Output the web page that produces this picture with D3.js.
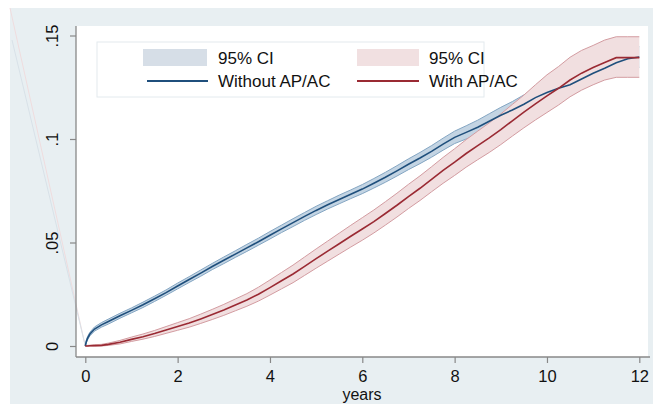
<!DOCTYPE html>
<html>
<head>
<meta charset="utf-8">
<script src="https://cdn.jsdelivr.net/npm/d3@7"></script>
<style>
  html, body { margin: 0; padding: 0; background: #ffffff; }
  svg { display: block; }
  text { font-family: "Liberation Sans", Arial, Helvetica, sans-serif; fill: #111; }
</style>
</head>
<body>
<svg id="chart" width="653" height="407"></svg>
<script>
// ---- data ----
const years = [0, 0.02, 0.05, 0.1, 0.2, 0.35, 0.5, 0.75, 1, 1.25, 1.5, 1.75, 2, 2.25, 2.5, 2.75, 3, 3.25, 3.5, 3.75, 4, 4.25, 4.5, 4.75, 5, 5.25, 5.5, 5.75, 6, 6.25, 6.5, 6.75, 7, 7.25, 7.5, 7.75, 8, 8.25, 8.5, 8.75, 9, 9.25, 9.5, 9.75, 10, 10.25, 10.5, 10.75, 11, 11.25, 11.5, 11.75, 12];

const withoutAPAC = [0, 0.0020, 0.0038, 0.0058, 0.0082, 0.0102, 0.0118, 0.0146, 0.0172, 0.0199, 0.0228, 0.0258, 0.0290, 0.0321, 0.0352, 0.0384, 0.0414, 0.0444, 0.0474, 0.0504, 0.0535, 0.0566, 0.0596, 0.0626, 0.0655, 0.0682, 0.0708, 0.0733, 0.0758, 0.0786, 0.0815, 0.0846, 0.0878, 0.0908, 0.0940, 0.0975, 0.1008, 0.1032, 0.1057, 0.1086, 0.1115, 0.1140, 0.1168, 0.1200, 0.1225, 0.1245, 0.1262, 0.1290, 0.1318, 0.1342, 0.1368, 0.1388, 0.1396];
const withoutLo = [0, 0.0014, 0.0030, 0.0049, 0.0072, 0.0091, 0.0106, 0.0134, 0.0160, 0.0186, 0.0215, 0.0245, 0.0276, 0.0307, 0.0337, 0.0369, 0.0398, 0.0428, 0.0457, 0.0487, 0.0517, 0.0548, 0.0577, 0.0607, 0.0635, 0.0662, 0.0687, 0.0712, 0.0736, 0.0763, 0.0791, 0.0821, 0.0852, 0.0881, 0.0912, 0.0946, 0.0978, 0.1000, 0.1023, 0.1050, 0.1077, 0.1099, 0.1123, 0.1152, 0.1175, 0.1195, 0.1212, 0.1240, 0.1268, 0.1292, 0.1318, 0.1338, 0.1346];
const withoutHi = [0, 0.0026, 0.0046, 0.0067, 0.0092, 0.0113, 0.0130, 0.0158, 0.0184, 0.0212, 0.0241, 0.0271, 0.0304, 0.0335, 0.0367, 0.0399, 0.0430, 0.0460, 0.0491, 0.0521, 0.0553, 0.0584, 0.0615, 0.0645, 0.0675, 0.0702, 0.0729, 0.0754, 0.0780, 0.0809, 0.0839, 0.0871, 0.0904, 0.0935, 0.0968, 0.1004, 0.1038, 0.1064, 0.1091, 0.1122, 0.1153, 0.1181, 0.1213, 0.1248, 0.1275, 0.1295, 0.1312, 0.1340, 0.1368, 0.1392, 0.1418, 0.1438, 0.1446];

const withAPAC = [0, 0, 0, 0.0001, 0.0002, 0.0003, 0.0008, 0.0018, 0.0032, 0.0045, 0.0060, 0.0077, 0.0094, 0.0111, 0.0131, 0.0152, 0.0174, 0.0198, 0.0222, 0.0250, 0.0282, 0.0315, 0.0348, 0.0385, 0.0422, 0.0458, 0.0494, 0.0530, 0.0565, 0.0601, 0.0640, 0.0680, 0.0722, 0.0762, 0.0805, 0.0848, 0.0888, 0.0930, 0.0968, 0.1005, 0.1045, 0.1088, 0.1130, 0.1170, 0.1208, 0.1245, 0.1285, 0.1318, 0.1345, 0.1370, 0.1393, 0.1393, 0.1393];
const withLo = [0, 0, 0, 0, 0, 0, 0.0003, 0.0010, 0.0022, 0.0033, 0.0046, 0.0061, 0.0076, 0.0091, 0.0109, 0.0128, 0.0148, 0.0170, 0.0192, 0.0217, 0.0246, 0.0276, 0.0306, 0.0341, 0.0376, 0.0410, 0.0444, 0.0478, 0.0511, 0.0546, 0.0584, 0.0623, 0.0664, 0.0703, 0.0745, 0.0786, 0.0824, 0.0864, 0.0900, 0.0935, 0.0973, 0.1014, 0.1054, 0.1092, 0.1128, 0.1164, 0.1204, 0.1236, 0.1262, 0.1285, 0.1298, 0.1298, 0.1298];
const withHi = [0, 0.0002, 0.0003, 0.0004, 0.0006, 0.0008, 0.0014, 0.0027, 0.0043, 0.0058, 0.0075, 0.0094, 0.0113, 0.0132, 0.0154, 0.0177, 0.0201, 0.0227, 0.0253, 0.0284, 0.0319, 0.0355, 0.0391, 0.0430, 0.0469, 0.0507, 0.0545, 0.0583, 0.0620, 0.0657, 0.0697, 0.0738, 0.0781, 0.0822, 0.0866, 0.0911, 0.0953, 0.0997, 0.1038, 0.1078, 0.1121, 0.1167, 0.1212, 0.1262, 0.1310, 0.1350, 0.1395, 0.1428, 0.1452, 0.1478, 0.1494, 0.1494, 0.1494];

const xTicks = [0, 2, 4, 6, 8, 10, 12];
const yTicks = [0, 0.05, 0.1, 0.15];
const yTickLabels = ["0", ".05", ".1", ".15"];
const legendLabels = ["95% CI", "Without AP/AC", "95% CI", "With AP/AC"];
const xTitle = "years";

// ---- layout ----
const svg = d3.select("#chart");
const plotL = 76, plotR = 648, plotT = 26, plotB = 357;
const x = d3.scaleLinear().domain([0, 12]).range([85.3, 639.3]);
const y = d3.scaleLinear().domain([0, 0.15]).range([346, 35.5]);

const colors = {
  bg: "#e8eff2",
  blueLine: "#1f4f7c", blueFill: "#c3d4e3", blueEdge: "#84a6c3", blueSwatch: "#d6dee7",
  redLine: "#9a2a33", redFill: "#f1dfe0", redEdge: "#d39ca1", redSwatch: "#f1e0e1",
  axis: "#888888"
};

// graph region background
svg.append("rect").attr("x", 10).attr("y", 8).attr("width", 643).attr("height", 396).attr("fill", colors.bg);
// plot region
svg.append("rect").attr("x", plotL).attr("y", plotT).attr("width", plotR - plotL).attr("height", plotB - plotT).attr("fill", "#ffffff");

// faint artifact lines seen in the reference
svg.append("line").attr("x1", 10).attr("y1", 8).attr("x2", x(0)).attr("y2", y(0))
  .attr("stroke", "#efdcde").attr("stroke-width", 1);
svg.append("line").attr("x1", 12).attr("y1", 40).attr("x2", x(0)).attr("y2", y(0))
  .attr("stroke", "#d8e1e8").attr("stroke-width", 1);

const idx = d3.range(years.length);
const area = (lo, hi) => d3.area().x(i => x(years[i])).y0(i => y(lo[i])).y1(i => y(hi[i]));
const line = (arr) => d3.line().x(i => x(years[i])).y(i => y(arr[i]));

// CI bands
const g = svg.append("g");
function band(lo, hi, fill, edge) {
  g.append("path").attr("d", area(lo, hi)(idx)).attr("fill", fill);
  g.append("path").attr("d", line(lo)(idx)).attr("fill", "none").attr("stroke", edge).attr("stroke-width", 1);
  g.append("path").attr("d", line(hi)(idx)).attr("fill", "none").attr("stroke", edge).attr("stroke-width", 1);
}
band(withoutLo, withoutHi, colors.blueFill, colors.blueEdge);
band(withLo, withHi, colors.redFill, colors.redEdge);

// estimate lines
g.append("path").attr("d", line(withoutAPAC)(idx)).attr("fill", "none").attr("stroke", colors.blueLine).attr("stroke-width", 1.6);
g.append("path").attr("d", line(withAPAC)(idx)).attr("fill", "none").attr("stroke", colors.redLine).attr("stroke-width", 1.6);

// axes
svg.append("line").attr("x1", plotL).attr("x2", plotL).attr("y1", plotT).attr("y2", plotB)
  .attr("stroke", colors.axis).attr("stroke-width", 1.3);
svg.append("line").attr("x1", plotL).attr("x2", plotR + 2).attr("y1", plotB).attr("y2", plotB)
  .attr("stroke", colors.axis).attr("stroke-width", 1.3);

const xAxis = d3.axisBottom(x).tickValues(xTicks).tickSize(6).tickSizeOuter(0).tickFormat(d3.format("d"));
const gx = svg.append("g").attr("transform", `translate(0,${plotB})`).call(xAxis);
gx.select(".domain").remove();
gx.selectAll(".tick line").attr("stroke", colors.axis).attr("stroke-width", 1.2);
gx.selectAll(".tick text").attr("y", 0).attr("dy", "25px")
  .style("font-family", '"Liberation Sans", Arial, sans-serif').style("font-size", "16.5px").attr("fill", "#111");

const yAxis = d3.axisLeft(y).tickValues(yTicks).tickSize(6).tickSizeOuter(0).tickFormat((d, i) => yTickLabels[i]);
const gy = svg.append("g").attr("transform", `translate(${plotL},0)`).call(yAxis);
gy.select(".domain").remove();
gy.selectAll(".tick line").attr("stroke", colors.axis).attr("stroke-width", 1.2);
gy.selectAll(".tick text")
  .attr("x", null).attr("dy", null)
  .attr("text-anchor", "middle")
  .attr("transform", "translate(-18,0) rotate(-90)")
  .style("font-family", '"Liberation Sans", Arial, sans-serif').style("font-size", "16.5px").attr("fill", "#111");

// x title
svg.append("text").attr("x", (plotL + plotR) / 2).attr("y", 399.5).attr("text-anchor", "middle")
  .style("font-size", "16px").text(xTitle);

// legend
const lg = svg.append("g");
lg.append("rect").attr("x", 97).attr("y", 42).attr("width", 387).attr("height", 55)
  .attr("fill", "#ffffff").attr("stroke", "#e3eaee").attr("stroke-width", 1);
const legendItems = [
  { kind: "swatch", color: colors.blueSwatch, x0: 143, x1: 207, row: 0, label: legendLabels[0], tx: 218 },
  { kind: "line", color: colors.blueLine, x0: 147, x1: 208, row: 1, label: legendLabels[1], tx: 218 },
  { kind: "swatch", color: colors.redSwatch, x0: 357, x1: 419, row: 0, label: legendLabels[2], tx: 429 },
  { kind: "line", color: colors.redLine, x0: 357, x1: 419, row: 1, label: legendLabels[3], tx: 429 }
];
const rowY = [57.5, 81];
legendItems.forEach(d => {
  if (d.kind === "swatch") {
    lg.append("rect").attr("x", d.x0).attr("y", rowY[d.row] - 8.5).attr("width", d.x1 - d.x0).attr("height", 17).attr("fill", d.color);
  } else {
    lg.append("line").attr("x1", d.x0).attr("x2", d.x1).attr("y1", rowY[d.row]).attr("y2", rowY[d.row])
      .attr("stroke", d.color).attr("stroke-width", 1.8);
  }
  lg.append("text").attr("x", d.tx).attr("y", rowY[d.row] + 6).style("font-size", "17px").text(d.label);
});
</script>
</body>
</html>
